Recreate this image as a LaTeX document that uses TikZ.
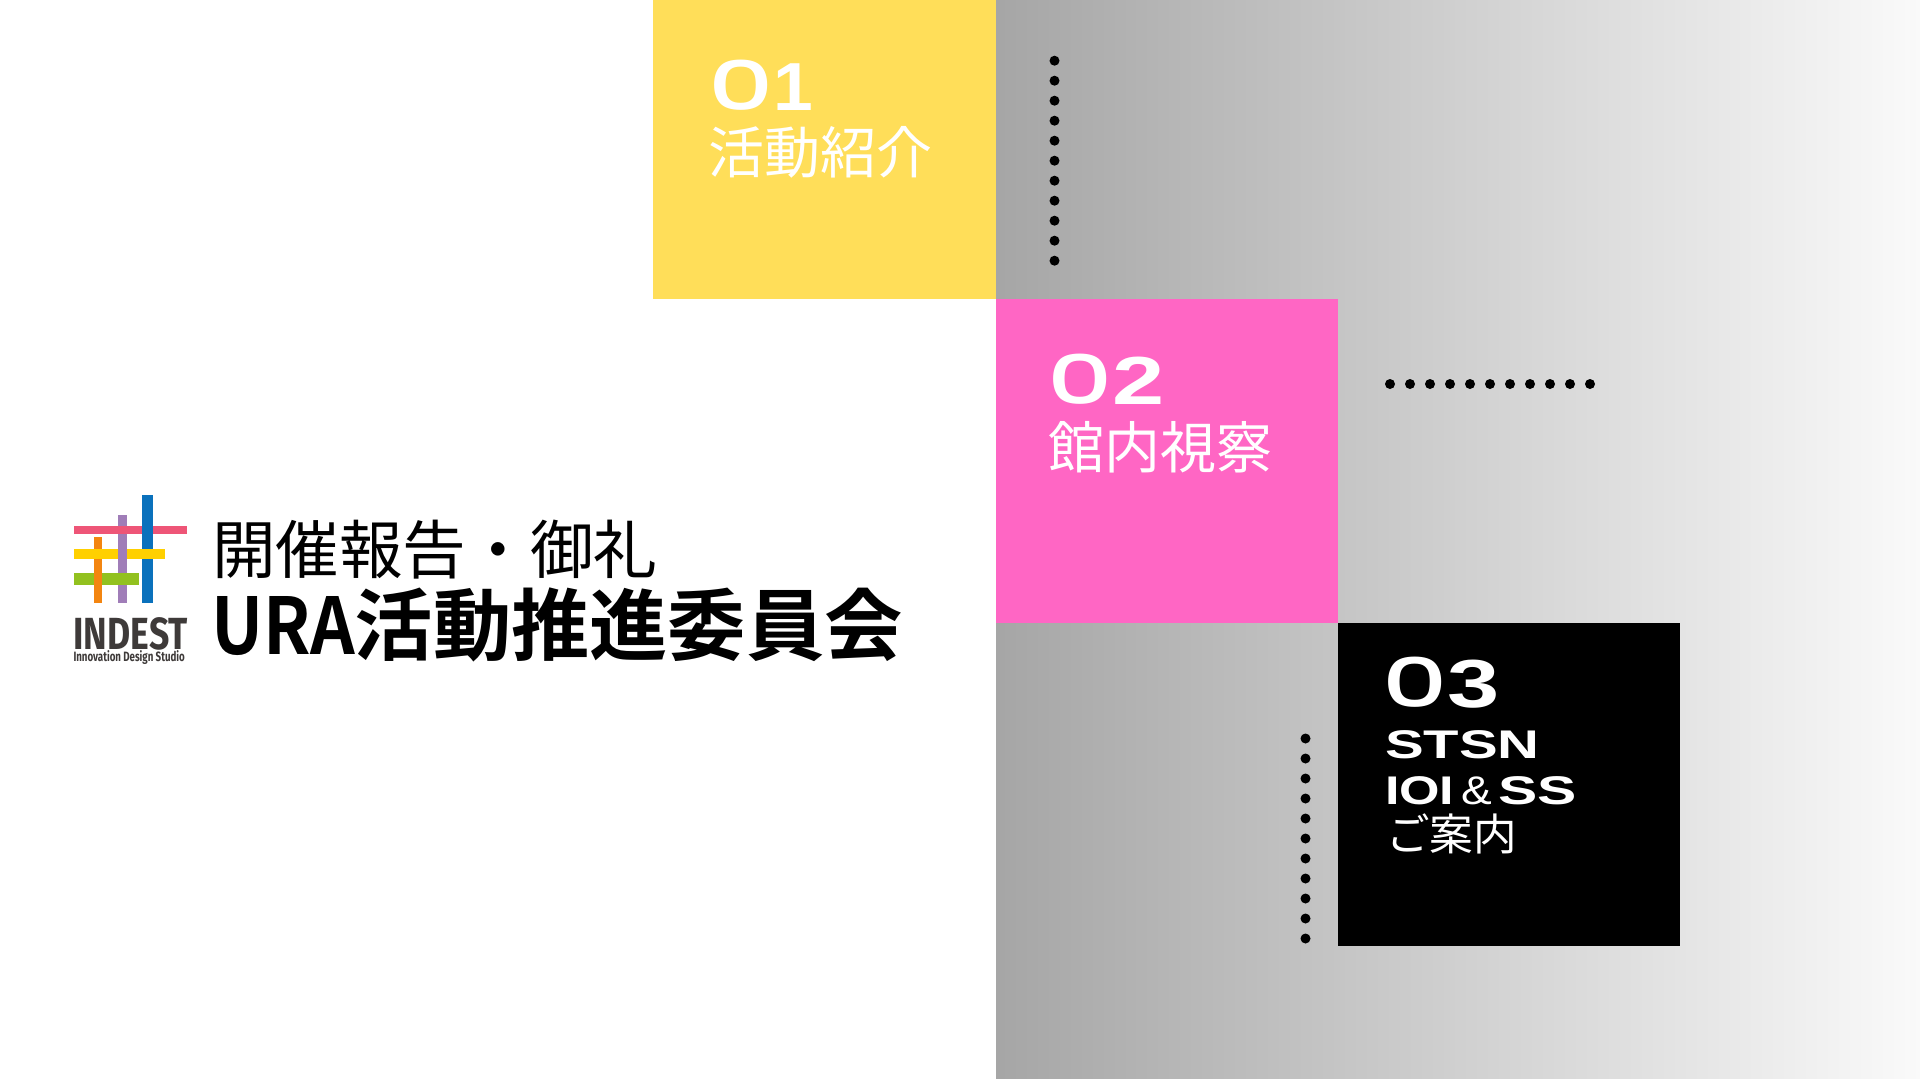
\documentclass[tikz,border=0pt]{standalone}
\usepackage{fontspec}
\setmainfont{Liberation Sans}
\newfontfamily\cjk{Noto Sans CJK JP}
\newfontfamily\cjkb{Noto Sans CJK JP Bold}
\newfontfamily\heavy{Fira Sans}
\newfontfamily\pop{Poppins Medium}
\newcommand{\fs}[1]{\fontsize{#1pt}{#1pt}\selectfont}
\newcommand{\zr}[1]{\scalebox{#1}[1]{\mdseries\pop 0}}
\definecolor{yel}{HTML}{FFDE59}
\definecolor{pnk}{HTML}{FF66C4}
\definecolor{lblue}{HTML}{0A71BC}
\definecolor{lpurple}{HTML}{A07DB8}
\definecolor{lorange}{HTML}{F38510}
\definecolor{lpink}{HTML}{EE5577}
\definecolor{lyellow}{HTML}{FFD000}
\definecolor{lgreen}{HTML}{92C11F}
\definecolor{ltext}{HTML}{3E3A39}
\tikzset{
  txt/.style={anchor=base west,inner sep=0pt,outer sep=0pt,text=white},
  wide/.style={txt,font=\bfseries,transform shape},
  dotmark/.style={fill=black,draw=none},
}
\begin{document}
\begin{tikzpicture}[x=1pt,y=-1pt]
\useasboundingbox (0,0) rectangle (1920,1080);
\fill[white] (0,0) rectangle (1920,1080);
\shade[left color=black!35,right color=black!2,shading angle=90,draw=none] (996,0) rectangle (1920,1078);
\fill[yel] (653,0) rectangle (996,298.5);
\fill[pnk] (996,299) rectangle (1338,622.5);
\fill[black] (1338,623) rectangle (1680,946);
% dots
\foreach \i in {0,...,10} {
  \fill[dotmark] (1054.5,60.7+20*\i) circle (5);
  \fill[dotmark] (1390+20*\i,384) circle (5);
  \fill[dotmark] (1305.5,738.5+20*\i) circle (5);
}
% card texts
\node[wide,font=\bfseries\fs{68}] (n1) at (708,110.5) {\zr{1.5}\scalebox{1.05}[1]{1}};
\node[txt,font=\cjk\fs{56}] (t1) at (708,173.5) {活動紹介};
\node[wide,font=\bfseries\fs{68}] (n2) at (1047,404) {\zr{1.5}\scalebox{1.38}[1]{2}};
\node[txt,font=\cjk\fs{56}] (t2) at (1048.5,468) {館内視察};
\node[wide,font=\bfseries\fs{68}] (n3) at (1382,707) {\zr{1.5}\scalebox{1.38}[1]{3}};
\node[txt,font=\bfseries\fs{40}] (s1) at (1385,758) {\scalebox{1.45}[1]{STSN}};
\node[txt,font=\bfseries\fs{40}] (s2) at (1385,804) {\scalebox{1.3}[1]{IOI}\,\scalebox{1.15}[1]{\normalfont\&}\,\scalebox{1.47}[1]{SS}};
\node[txt,font=\cjk\fs{43.6}] (s3) at (1386,850) {ご案内};
% title
\node[txt,text=black,font=\cjk\fs{63.6}] (title1) at (212,573.5) {開催報告・御礼};
\node[txt,text=black,font=\cjkb\fs{78.3}] (title2) at (211,654) {\scalebox{.89}[1]{URA}活動推進委員会};
% logo
\fill[lpurple] (117.7,515.3) rectangle (127,602.7);
\fill[lorange] (94.3,537.3) rectangle (102.3,602.7);
\fill[lblue] (142.3,495) rectangle (153.3,602.7);
\fill[lpink] (74.3,526) rectangle (142.3,534);
\fill[lpink] (153.3,526) rectangle (187.3,534);
\fill[lyellow] (74.3,548.7) rectangle (117.7,558.7);
\fill[lyellow] (127,548.7) rectangle (165,558.7);
\fill[lgreen] (74.3,573.3) rectangle (94.3,585.3);
\fill[lgreen] (102.3,573.3) rectangle (139.3,585.3);
\node[txt,text=ltext,font=\heavy\bfseries\fs{45}] (l1) at (73.5,649) {\scalebox{.79}[1]{INDEST}};
\node[txt,text=ltext,font=\heavy\bfseries\fs{13.5}] (l2) at (73.5,661.5) {\scalebox{.72}[1]{Innovation Design Studio}};
\end{tikzpicture}
\end{document}
